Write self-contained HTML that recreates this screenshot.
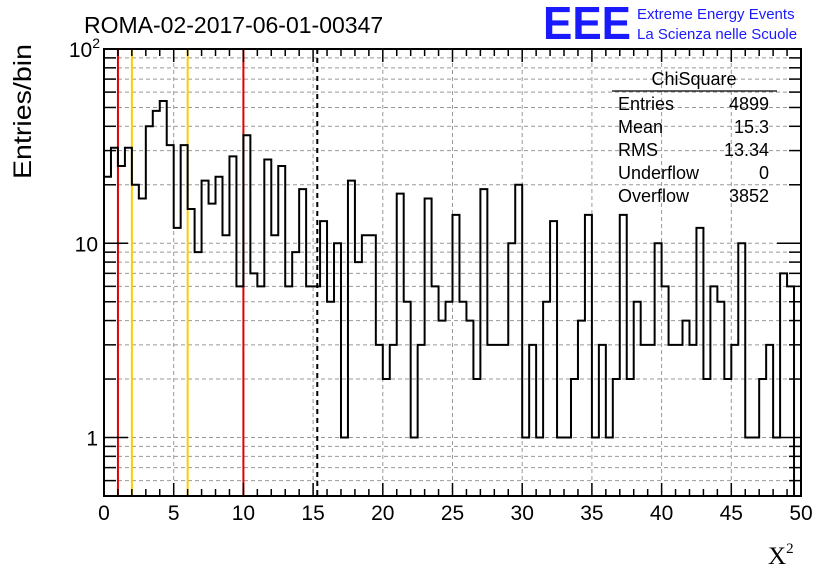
<!DOCTYPE html>
<html><head><meta charset="utf-8"><style>
body{margin:0;background:#fff;}
svg{display:block;font-family:"Liberation Sans",sans-serif;}
</style></head><body>
<svg id="c" width="836" height="572" xmlns="http://www.w3.org/2000/svg">
<rect width="836" height="572" fill="#fff"/>
<text x="84" y="33" font-size="23">ROMA-02-2017-06-01-00347</text>
<g>
<text x="543" y="39" font-size="46" font-weight="bold" fill="#1a1aff" textLength="88" lengthAdjust="spacingAndGlyphs">EEE</text>
<text x="637" y="19" font-size="15" fill="#1a1aff">Extreme Energy Events</text>
<text x="637" y="39" font-size="15" fill="#1a1aff">La Scienza nelle Scuole</text>
</g>
<g id="grid"></g>
<g id="marks"></g>
<g id="axes"></g>
<g font-size="18">
<text x="694" y="85" text-anchor="middle">ChiSquare</text>
<line x1="612" y1="91" x2="777" y2="91" stroke="#000" stroke-width="1.2"/>
<text x="618" y="110">Entries</text><text x="769" y="110" text-anchor="end">4899</text>
<text x="618" y="133">Mean</text><text x="769" y="133" text-anchor="end">15.3</text>
<text x="618" y="156">RMS</text><text x="769" y="156" text-anchor="end">13.34</text>
<text x="618" y="179">Underflow</text><text x="769" y="179" text-anchor="end">0</text>
<text x="618" y="202">Overflow</text><text x="769" y="202" text-anchor="end">3852</text>
</g>
<text x="0" y="0" font-size="25" transform="translate(31,179) rotate(-90)" textLength="135" lengthAdjust="spacingAndGlyphs">Entries/bin</text>
<text x="768" y="564" font-size="25" font-family="Liberation Serif,serif">X<tspan font-size="15" dy="-11">2</tspan></text>
</svg>
<script>
const counts=[22,31,25,31,20,17,40,48,54,32,12,32,15,9,21,16,22,11,28,6,36,7,6,27,11,25,6,9,19,6,6,13,5,10,1,21,8,11,11,3,2,3,18,5,1,3,17,6,4,5,14,5,4,2,19,3,3,3,10,20,1,3,1,5,13,1,1,2,4,14,1,3,1,2,14,2,5,3,3,10,6,3,3,4,3,12,2,6,5,2,3,10,1,1,2,3,1,7,6,0];
const binWidth=0.5, xMin=0, xMax=50;
const xTicks=[0,5,10,15,20,25,30,35,40,45,50];
const yMajor=[1,10,100];
const cutLines=[{v:1,c:'#e00000',n:'cut-line-1'},{v:2,c:'#ffcc00',n:'cut-line-2'},{v:6,c:'#ffcc00',n:'cut-line-6'},{v:10,c:'#e00000',n:'cut-line-10'}];
const meanValue=15.3;
const L=104,R=801,T=49,B=496,yMinV=0.5,yMaxV=100;
const sx=v=>L+(v-xMin)/(xMax-xMin)*(R-L);
const sy=v=>{if(v<=0)return B;return B-(Math.log10(v)-Math.log10(yMinV))/(Math.log10(yMaxV)-Math.log10(yMinV))*(B-T);};
const NS='http://www.w3.org/2000/svg';
function mk(t,a,p){const e=document.createElementNS(NS,t);for(const k in a)e.setAttribute(k,a[k]);p.appendChild(e);return e;}
const grid=document.getElementById('grid'),marks=document.getElementById('marks'),axes=document.getElementById('axes');
xTicks.forEach(v=>{if(v>xMin&&v<xMax){const g=mk('line',{x1:sx(v),x2:sx(v),y1:T,y2:B,stroke:'#999','stroke-dasharray':'4,3','stroke-width':1},grid);

}});
for(let d=0.1;d<100;d*=10){for(let m=1;m<10;m++){const v=+(d*m).toPrecision(3);if(v<=yMinV||v>=yMaxV)continue;const y=sy(v);
const g=mk('line',{x1:L,x2:R,y1:y,y2:y,stroke:'#999','stroke-dasharray':'4,3','stroke-width':1},grid);


[[L,L+(m==1?24:12)],[R,R-(m==1?24:12)]].forEach(p=>{const t=mk('line',{x1:p[0],x2:p[1],y1:y,y2:y,stroke:'#000','stroke-width':1.5},axes);

});}}
cutLines.forEach(c=>{const l=mk('line',{x1:sx(c.v),x2:sx(c.v),y1:T,y2:B,stroke:c.c,'stroke-width':2},marks);

});
const ml=mk('line',{x1:sx(meanValue),x2:sx(meanValue),y1:T,y2:B,stroke:'#000','stroke-width':2,'stroke-dasharray':'5,4'},marks);


let d='M'+sx(xMin)+','+sy(counts[0]);
counts.forEach((c,i)=>{const x0=sx(xMin+i*binWidth),x1=sx(xMin+(i+1)*binWidth);d+=' L'+x0+','+sy(c)+' L'+x1+','+sy(c);});
const h=mk('path',{d:d,fill:'none',stroke:'#000','stroke-width':2},marks);


const fr=mk('rect',{x:L,y:T,width:R-L,height:B-T,fill:'none',stroke:'#000','stroke-width':2},axes);


for(let v=xMin;v<=xMax;v++){const len=v%5==0?13:7;const x=sx(v);
[[B,B-len],[T,T+len]].forEach(p=>{const t=mk('line',{x1:x,x2:x,y1:p[0],y2:p[1],stroke:'#000','stroke-width':1.5},axes);

});}
xTicks.forEach(v=>{const t=mk('text',{x:sx(v),y:520,'font-size':21,'text-anchor':'middle'},axes);t.textContent=v;

});
yMajor.forEach(v=>{const t=mk('text',{x:L-6,y:sy(v)+8,'font-size':21,'text-anchor':'end'},axes);
if(v==100){t.textContent='10';const s=mk('tspan',{'font-size':14,dy:-9},t);s.textContent='2';t.setAttribute('x',L-4);}
else t.textContent=v;

});
</script>
</body></html>
